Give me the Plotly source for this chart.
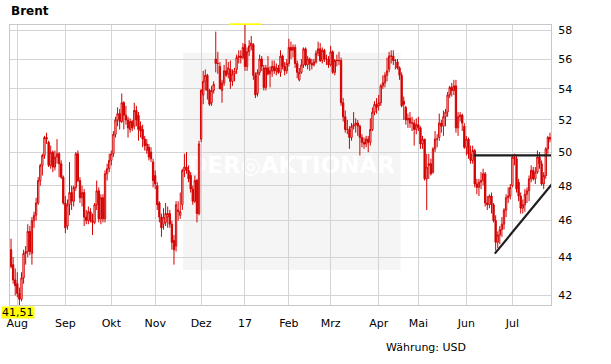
import math
import base64
import pandas as pd
import plotly.graph_objects as go

# ---------------- data ----------------
title_text = "Brent"
currency_text = "Währung: USD"
start_date, end_date = "2016-07-27", "2017-07-27"
holidays = ["2016-12-26", "2017-01-02", "2017-04-14"]
month_names = {8: "Aug", 9: "Sep", 10: "Okt", 11: "Nov", 12: "Dez", 1: "17",
               2: "Feb", 3: "Mrz", 4: "Apr", 5: "Mai", 6: "Jun", 7: "Jul"}
y_ticks = [42, 44, 46, 48, 50, 52, 54, 56, 58]

open_ = [
    44.4, 43.6, 42.8, 42.6, 42.1, 41.8, 42.9, 44.2, 44.3, 45.4,
    44.2, 46.0, 46.3, 47.0, 48.3, 49.2, 49.8, 50.9, 50.6, 49.2,
    50.0, 49.1, 49.7, 49.9, 49.3, 48.5, 47.0, 45.7, 46.9, 47.6,
    47.1, 47.9, 49.9, 48.3, 47.3, 47.6, 46.2, 46.0, 46.5, 46.0,
    45.9, 46.9, 47.7, 46.1, 47.3, 46.1, 48.7, 49.0, 49.5, 49.9,
    51.1, 52.0, 52.4, 51.9, 53.1, 52.3, 52.0, 51.4, 51.9, 51.6,
    52.6, 52.3, 51.6, 51.4, 50.8, 50.1, 50.3, 50.0, 49.4, 48.6,
    48.0, 47.0, 46.2, 45.8, 45.9, 46.2, 46.4, 45.8, 44.9, 44.6,
    46.5, 46.3, 46.9, 48.9, 49.1, 48.9, 48.6, 47.8, 47.1, 48.3,
    46.4, 50.8, 53.6, 54.5, 54.9, 53.9, 53.1, 53.9, 56.0, 55.7,
    55.5, 53.9, 54.4, 55.2, 55.0, 55.3, 54.5, 55.0, 55.3, 56.1,
    56.2, 56.1, 57.0, 55.5, 56.5, 56.9, 57.0, 54.9, 53.7, 55.1,
    56.0, 55.4, 54.1, 55.4, 55.0, 55.2, 55.5, 55.2, 55.4, 55.1,
    56.2, 55.5, 55.2, 55.7, 56.8, 56.6, 56.8, 55.7, 54.6, 55.1,
    55.6, 56.7, 55.6, 56.0, 55.7, 55.6, 55.8, 56.4, 56.7, 55.9,
    56.6, 56.0, 56.0, 55.6, 56.5, 55.1, 55.9, 55.9, 55.9, 53.1,
    52.2, 51.4, 51.4, 50.9, 51.6, 51.7, 51.8, 51.6, 50.9, 50.6,
    50.5, 50.8, 50.6, 51.4, 52.5, 53.0, 52.9, 53.1, 54.2, 54.4,
    54.9, 55.3, 56.2, 56.2, 55.9, 55.8, 55.4, 54.9, 53.2, 52.8,
    52.0, 52.1, 51.8, 51.8, 51.4, 51.7, 51.5, 50.5, 50.8, 48.4,
    49.2, 49.3, 48.8, 50.2, 50.8, 50.9, 51.8, 51.6, 52.2, 52.5,
    53.6, 54.1, 53.9, 54.2, 51.5, 52.2, 52.3, 51.6, 50.3, 50.8,
    49.9, 49.5, 50.1, 48.1, 47.9, 48.2, 48.3, 48.7, 47.0, 46.9,
    47.4, 46.9, 46.0, 44.8, 45.2, 45.5, 45.8, 46.6, 47.3, 47.4,
    48.0, 49.7, 49.6, 48.2, 47.4, 46.7, 46.9, 47.5, 47.7, 48.4,
    48.9, 48.4, 48.8, 49.7, 49.3, 48.1, 48.6, 50.2, 50.9,
]
high = [
    45.0, 44.0, 43.4, 43.2, 42.4, 43.2, 44.4, 44.6, 45.8, 45.7,
    46.2, 46.5, 47.3, 48.5, 49.3, 49.9, 51.0, 51.2, 50.7, 50.4,
    50.1, 50.1, 50.8, 50.0, 49.5, 48.6, 47.4, 47.2, 49.4, 48.0,
    48.0, 50.0, 50.1, 48.5, 48.0, 47.8, 46.6, 46.8, 46.7, 46.4,
    47.0, 48.3, 47.9, 47.5, 47.5, 48.9, 49.3, 49.9, 50.1, 51.3,
    52.2, 52.8, 52.7, 53.7, 53.2, 52.9, 52.2, 52.1, 52.0, 53.1,
    52.9, 52.5, 51.9, 51.7, 51.0, 50.8, 50.5, 50.3, 49.6, 48.9,
    48.2, 47.1, 46.4, 46.7, 47.0, 46.8, 46.6, 46.0, 45.2, 47.1,
    47.1, 47.6, 49.0, 49.9, 50.0, 49.2, 48.8, 48.0, 48.6, 48.4,
    50.7, 54.0, 55.2, 55.3, 55.0, 54.0, 54.2, 54.5, 57.9, 56.5,
    55.8, 54.6, 55.6, 56.0, 55.8, 55.9, 55.3, 55.4, 56.3, 56.6,
    56.6, 57.1, 58.37, 56.8, 57.3, 57.6, 57.1, 55.1, 55.3, 56.3,
    56.2, 55.6, 55.6, 56.2, 55.5, 55.9, 55.9, 55.7, 55.6, 56.6,
    56.3, 55.8, 56.0, 57.4, 57.2, 57.0, 57.0, 55.9, 55.4, 56.0,
    56.8, 56.8, 56.2, 56.1, 56.0, 56.0, 56.6, 57.2, 57.1, 56.8,
    56.7, 56.3, 56.2, 56.9, 56.6, 56.0, 56.3, 56.5, 56.1, 53.4,
    52.6, 52.0, 51.6, 51.8, 52.5, 52.1, 52.0, 51.7, 51.1, 50.9,
    51.0, 51.0, 52.1, 52.8, 53.2, 53.4, 53.6, 54.3, 54.9, 55.1,
    56.1, 56.5, 56.6, 56.6, 56.0, 56.0, 55.5, 55.1, 53.5, 52.9,
    52.4, 52.5, 52.2, 52.0, 52.1, 52.2, 51.6, 51.0, 50.8, 49.9,
    49.9, 49.6, 50.3, 51.3, 51.1, 52.4, 52.0, 52.6, 52.7, 53.8,
    54.2, 54.4, 54.6, 54.6, 52.5, 52.5, 52.4, 51.8, 51.0, 50.9,
    50.4, 50.4, 50.2, 48.4, 48.4, 48.8, 49.0, 48.8, 47.4, 47.5,
    47.6, 47.0, 46.3, 45.4, 45.7, 46.2, 46.7, 47.5, 47.9, 48.1,
    49.8, 49.9, 49.8, 48.4, 47.6, 47.2, 47.8, 47.9, 48.6, 49.2,
    49.1, 49.1, 50.1, 50.0, 49.5, 48.8, 50.3, 51.0, 51.2,
]
low = [
    43.4, 42.6, 42.0, 41.9, 41.51, 41.7, 42.6, 43.6, 44.0, 44.1,
    43.6, 45.6, 46.0, 46.9, 48.0, 48.6, 49.6, 50.5, 49.1, 49.0,
    48.8, 48.9, 49.3, 48.5, 48.4, 46.9, 45.3, 45.5, 46.3, 46.6,
    46.8, 47.7, 48.2, 47.0, 46.8, 45.7, 45.8, 45.8, 45.9, 45.2,
    45.8, 46.6, 45.9, 45.8, 45.9, 45.9, 48.3, 48.8, 49.2, 49.7,
    50.9, 51.6, 51.4, 51.8, 51.4, 51.7, 50.9, 51.2, 51.3, 51.4,
    51.6, 50.7, 50.9, 50.3, 50.1, 49.9, 49.5, 49.4, 47.9, 47.8,
    46.6, 45.9, 45.1, 45.5, 45.7, 45.6, 45.6, 44.4, 43.6, 44.3,
    46.0, 46.1, 46.6, 48.5, 48.7, 48.2, 47.6, 46.9, 47.0, 45.9,
    46.3, 50.6, 53.0, 53.9, 53.3, 52.9, 52.9, 53.7, 55.1, 55.0,
    54.0, 53.1, 54.2, 54.8, 54.7, 54.0, 54.2, 54.5, 55.0, 55.7,
    55.7, 56.0, 55.2, 55.2, 56.2, 56.6, 54.6, 53.4, 53.5, 54.9,
    55.2, 53.9, 53.9, 54.9, 54.1, 54.8, 55.0, 54.9, 55.0, 54.8,
    55.3, 54.9, 55.0, 55.5, 56.0, 56.1, 55.4, 54.7, 54.5, 55.0,
    55.4, 55.5, 55.3, 55.2, 55.3, 55.5, 55.7, 56.2, 55.8, 55.7,
    55.8, 55.6, 55.4, 55.5, 55.0, 54.9, 55.5, 55.6, 52.9, 51.9,
    51.2, 51.1, 50.2, 50.7, 51.4, 51.2, 51.0, 49.8, 50.3, 50.2,
    50.3, 50.0, 50.4, 51.3, 52.3, 52.4, 52.6, 52.9, 54.0, 54.1,
    54.5, 55.1, 55.7, 55.6, 55.3, 55.3, 54.6, 52.8, 52.0, 51.7,
    51.5, 51.5, 51.3, 50.4, 51.1, 51.3, 50.2, 50.2, 48.3, 46.6,
    48.4, 48.6, 48.7, 50.0, 50.3, 50.7, 51.2, 51.0, 51.6, 52.2,
    53.4, 53.5, 53.6, 51.2, 51.0, 51.9, 51.3, 50.2, 49.8, 49.6,
    49.3, 49.3, 47.9, 47.5, 47.4, 47.8, 48.0, 46.8, 46.6, 46.7,
    46.4, 45.9, 44.35, 44.5, 44.7, 45.1, 45.5, 46.2, 47.0, 47.2,
    47.9, 49.2, 47.6, 47.1, 46.4, 46.4, 46.5, 47.0, 47.1, 48.2,
    48.3, 48.1, 48.7, 49.0, 48.0, 47.8, 48.4, 49.9, 50.6,
]
close = [
    43.5, 42.8, 42.5, 42.1, 41.8, 42.9, 44.2, 44.3, 45.4, 44.3,
    46.0, 46.3, 47.0, 48.3, 49.2, 49.8, 50.9, 50.8, 49.2, 50.0,
    49.1, 49.7, 49.9, 49.3, 48.5, 47.0, 45.6, 46.9, 47.6, 47.1,
    47.9, 49.9, 48.3, 47.3, 47.6, 46.2, 46.0, 46.5, 46.0, 45.9,
    46.9, 47.7, 46.1, 47.3, 46.1, 48.7, 49.0, 49.5, 49.9, 51.1,
    52.0, 52.4, 51.9, 53.1, 52.3, 52.0, 51.5, 51.9, 51.5, 52.6,
    52.0, 51.4, 51.3, 50.8, 50.4, 50.5, 49.7, 49.6, 48.3, 48.1,
    46.9, 46.2, 45.6, 46.2, 46.4, 46.4, 45.8, 44.8, 44.4, 46.9,
    46.6, 46.5, 48.9, 49.1, 48.9, 48.4, 47.8, 47.1, 48.3, 46.4,
    50.5, 53.9, 54.5, 54.9, 53.9, 53.0, 53.9, 54.3, 55.7, 55.7,
    54.0, 54.4, 55.2, 54.9, 55.4, 54.5, 55.0, 55.2, 56.1, 56.2,
    56.1, 56.8, 55.5, 56.5, 56.9, 57.1, 54.9, 53.6, 55.1, 56.0,
    55.5, 54.1, 55.4, 55.0, 55.2, 55.5, 55.2, 55.4, 55.1, 56.2,
    55.5, 55.2, 55.7, 56.8, 56.6, 56.8, 55.7, 55.1, 55.1, 55.6,
    56.7, 55.6, 56.0, 55.7, 55.6, 55.8, 56.4, 56.7, 55.9, 56.6,
    56.0, 56.0, 55.6, 56.5, 55.1, 55.9, 55.9, 55.9, 53.1, 52.2,
    51.4, 51.4, 50.9, 51.6, 51.7, 51.8, 51.6, 50.9, 50.6, 50.5,
    50.8, 50.6, 51.4, 52.5, 53.0, 52.8, 53.1, 54.2, 54.4, 54.9,
    55.2, 56.2, 56.2, 55.9, 55.9, 55.4, 54.9, 52.9, 53.0, 52.0,
    52.1, 51.8, 51.8, 51.4, 51.7, 51.5, 50.5, 50.8, 48.4, 49.1,
    49.3, 48.7, 50.2, 50.8, 50.8, 51.8, 51.6, 52.2, 52.5, 53.6,
    54.1, 53.9, 54.2, 51.5, 52.2, 52.3, 51.8, 50.3, 50.8, 49.9,
    49.5, 50.1, 48.1, 47.9, 48.2, 48.3, 48.7, 47.0, 46.9, 47.4,
    46.9, 46.0, 44.8, 45.2, 45.5, 45.8, 46.6, 47.3, 47.4, 47.9,
    49.7, 49.6, 47.8, 47.4, 46.7, 46.9, 47.5, 47.7, 48.4, 48.9,
    48.4, 48.8, 49.7, 49.3, 48.1, 48.6, 50.2, 50.9, 50.8,
]

# trend lines drawn on the chart (trading-day index, price)
resistance_x = [221.6, 259.0]
resistance_y = [49.8, 49.8]
support_x = [231.6, 260.1]
support_y = [44.19, 48.26]

# ---------------- build ----------------
RED = "#d40000"
GRID = "#d4d4d4"
FONT = "DejaVu Sans"

dates = pd.bdate_range(start_date, end_date, freq="C", holidays=holidays)
n = len(close)
assert len(dates) == n == len(open_) == len(high) == len(low)
idx = list(range(n))

tickvals, ticktext = [], []
for i in range(1, n):
    if dates[i].month != dates[i - 1].month:
        tickvals.append(i)
        ticktext.append(month_names[dates[i].month])

ymin, ymax = min(low), max(high)
imin, imax = low.index(ymin), high.index(ymax)
xr = [-0.5, n - 0.5]
yr = [math.log10(ymin), math.log10(ymax)]

fig = go.Figure()
fig.add_trace(go.Candlestick(
    x=idx, open=open_, high=high, low=low, close=close,
    text=[d.strftime("%d.%m.%Y") for d in dates], hoverinfo="text+y",
    increasing=dict(line=dict(color=RED, width=1), fillcolor="white"),
    decreasing=dict(line=dict(color=RED, width=1), fillcolor=RED),
    whiskerwidth=0, showlegend=False,
))
fig.add_trace(go.Scatter(x=resistance_x, y=resistance_y, mode="lines",
                         line=dict(color="#1e1e1e", width=2.2),
                         showlegend=False, hoverinfo="skip"))
fig.add_trace(go.Scatter(x=support_x, y=support_y, mode="lines",
                         line=dict(color="#1e1e1e", width=2.2),
                         showlegend=False, hoverinfo="skip"))

axis_font = dict(family=FONT, size=11, color="#000000")
fig.update_layout(
    width=611, height=364,
    margin=dict(l=10, r=60, t=25, b=59, autoexpand=False),
    paper_bgcolor="white", plot_bgcolor="white",
    font=axis_font, hovermode="closest", boxgap=0.1,
    xaxis=dict(range=xr, tickmode="array", tickvals=tickvals, ticktext=ticktext,
               showgrid=True, gridcolor=GRID, gridwidth=1, zeroline=False,
               showline=True, linecolor="#c8c8c8", linewidth=1, mirror=True,
               ticks="", ticklabelstandoff=8, tickfont=axis_font, automargin=False,
               ticklabeloverflow="allow",
               rangeslider=dict(visible=False), fixedrange=True),
    yaxis=dict(type="log", side="right", range=yr, tickmode="array",
               tickvals=y_ticks, ticktext=[str(v) for v in y_ticks],
               showgrid=True, gridcolor=GRID, gridwidth=1, zeroline=False,
               showline=True, linecolor="#c8c8c8", linewidth=1, mirror=True,
               ticks="", ticklabelstandoff=4, tickfont=axis_font, automargin=False,
               fixedrange=True),
)

# watermark background box
fig.add_shape(type="rect", xref="paper", yref="paper", x0=0.320, x1=0.722,
              y0=0.125, y1=0.901, fillcolor="#f5f5f5", line=dict(width=0),
              layer="below")
# watermark text (as image below the candles)
svg = ('<svg xmlns="http://www.w3.org/2000/svg" width="240" height="30" viewBox="0 0 240 30">'
       '<text x="120" y="24" text-anchor="middle" font-family="DejaVu Sans" '
       'font-weight="bold" font-size="23" fill="#ffffff">DER\u25CEAKTIONÄR</text></svg>')
src = "data:image/svg+xml;base64," + base64.b64encode(svg.encode("utf-8")).decode()
fig.add_layout_image(dict(source=src, xref="x", yref="y", x=134.3, y=math.log10(49.3),
                          sizex=115, sizey=0.0159, xanchor="center", yanchor="middle",
                          sizing="stretch", layer="below", opacity=1))

# max marker (yellow bar at the top edge)
fig.add_shape(type="rect", xref="x", yref="paper", x0=imax - 7.6, x1=imax + 7.6,
              y0=1.0, y1=1.006, fillcolor="#ffff00", line=dict(width=0), layer="above")

# min label
fig.add_annotation(x=imin, y=math.log10(ymin), xref="x", yref="y",
                   text=f"{ymin:.2f}".replace(".", ","), showarrow=False,
                   xanchor="center", yanchor="top", yshift=-1, xshift=-1,
                   height=11, valign="middle",
                   bgcolor="#ffff00", borderpad=0,
                   font=dict(family=FONT, size=11, color="#000000"))

fig.add_annotation(x=0, y=1.0, xref="paper", yref="paper", xanchor="left", yanchor="bottom",
                   xshift=-1, yshift=5, text=f"<b>{title_text}</b>", showarrow=False,
                   font=dict(family=FONT, size=12, color="#000000"))
fig.add_annotation(x=0.8466, y=-0.15, xref="paper", yref="paper", xanchor="right",
                   yanchor="middle", text=currency_text, showarrow=False,
                   font=dict(family=FONT, size=11, color="#000000"))

# remove the browser's default 8px page margin so the figure fills the window
fig.write_html("out.html", config={"displayModeBar": False},
               post_script="document.body.style.margin='0px';")
